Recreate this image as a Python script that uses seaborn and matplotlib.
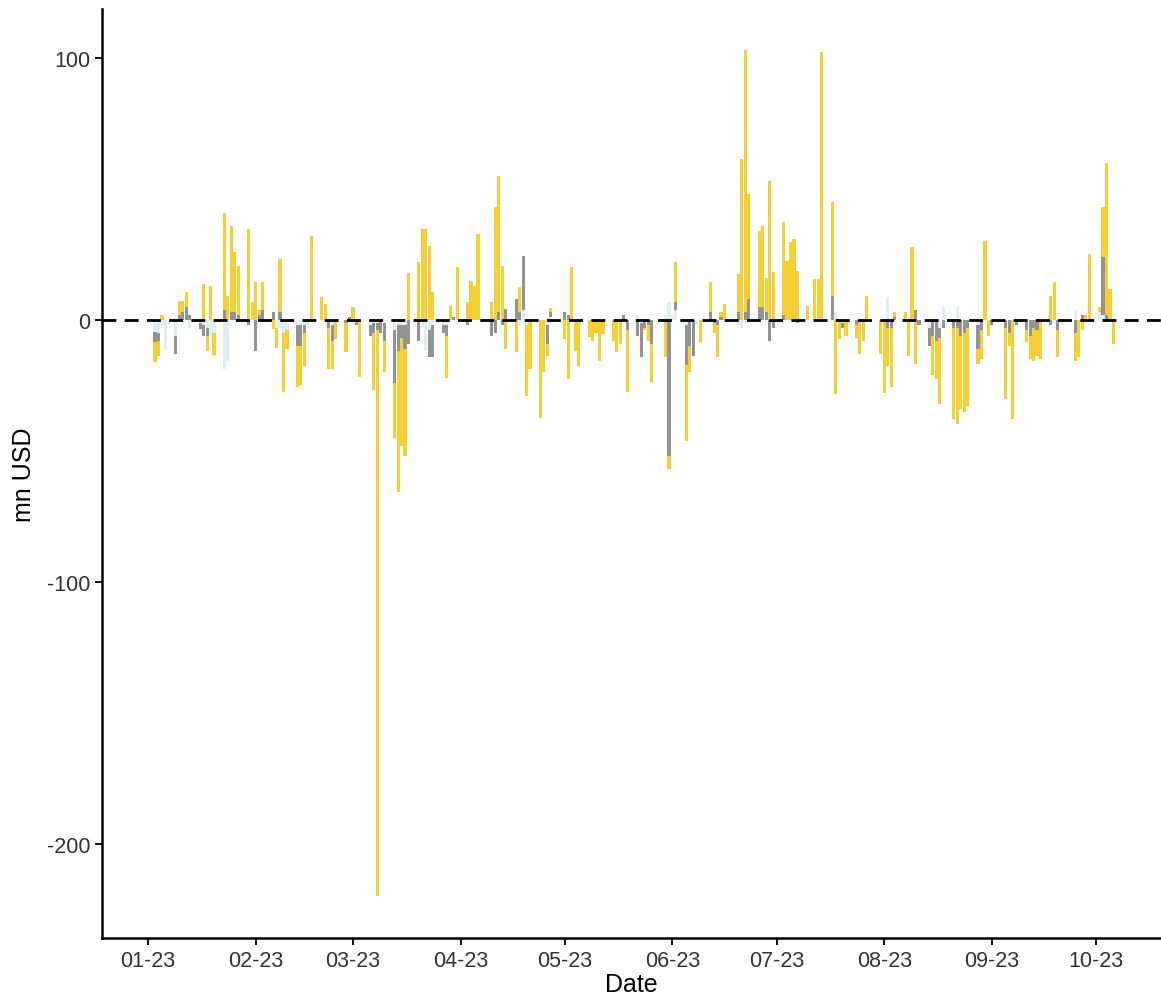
import pandas as pd
import numpy as np
import matplotlib
matplotlib.use("Agg")
import matplotlib.pyplot as plt
import matplotlib.dates as mdates
import seaborn as sns

# daily flows, mn USD
dates = [
    "2023-01-03", "2023-01-04", "2023-01-05", "2023-01-06", "2023-01-09", "2023-01-10",
    "2023-01-11", "2023-01-12", "2023-01-13", "2023-01-16", "2023-01-17", "2023-01-18",
    "2023-01-19", "2023-01-20", "2023-01-23", "2023-01-24", "2023-01-25", "2023-01-26",
    "2023-01-27", "2023-01-30", "2023-01-31", "2023-02-01", "2023-02-02", "2023-02-03",
    "2023-02-06", "2023-02-07", "2023-02-08", "2023-02-09", "2023-02-10", "2023-02-13",
    "2023-02-14", "2023-02-15", "2023-02-16", "2023-02-17", "2023-02-20", "2023-02-21",
    "2023-02-22", "2023-02-23", "2023-02-24", "2023-02-27", "2023-02-28", "2023-03-01",
    "2023-03-02", "2023-03-03", "2023-03-06", "2023-03-07", "2023-03-08", "2023-03-09",
    "2023-03-10", "2023-03-13", "2023-03-14", "2023-03-15", "2023-03-16", "2023-03-17",
    "2023-03-20", "2023-03-21", "2023-03-22", "2023-03-23", "2023-03-24", "2023-03-27",
    "2023-03-28", "2023-03-29", "2023-03-30", "2023-03-31", "2023-04-03", "2023-04-04",
    "2023-04-05", "2023-04-06", "2023-04-10", "2023-04-11", "2023-04-12", "2023-04-13",
    "2023-04-14", "2023-04-17", "2023-04-18", "2023-04-19", "2023-04-20", "2023-04-21",
    "2023-04-24", "2023-04-25", "2023-04-26", "2023-04-27", "2023-05-01", "2023-05-02",
    "2023-05-03", "2023-05-04", "2023-05-05", "2023-05-08", "2023-05-09", "2023-05-10",
    "2023-05-11", "2023-05-12", "2023-05-15", "2023-05-16", "2023-05-17", "2023-05-18",
    "2023-05-19", "2023-05-22", "2023-05-23", "2023-05-24", "2023-05-25", "2023-05-26",
    "2023-05-30", "2023-05-31", "2023-06-01", "2023-06-02", "2023-06-05", "2023-06-06",
    "2023-06-07", "2023-06-08", "2023-06-09", "2023-06-12", "2023-06-13", "2023-06-14",
    "2023-06-15", "2023-06-16", "2023-06-20", "2023-06-21", "2023-06-22", "2023-06-23",
    "2023-06-26", "2023-06-27", "2023-06-28", "2023-06-29", "2023-06-30", "2023-07-03",
    "2023-07-04", "2023-07-05", "2023-07-06", "2023-07-07", "2023-07-10", "2023-07-12",
    "2023-07-13", "2023-07-14", "2023-07-17", "2023-07-18", "2023-07-19", "2023-07-20",
    "2023-07-21", "2023-07-24", "2023-07-25", "2023-07-26", "2023-07-27", "2023-07-31",
    "2023-08-01", "2023-08-02", "2023-08-03", "2023-08-04", "2023-08-07", "2023-08-08",
    "2023-08-09", "2023-08-10", "2023-08-11", "2023-08-14", "2023-08-15", "2023-08-16",
    "2023-08-17", "2023-08-18", "2023-08-21", "2023-08-22", "2023-08-23", "2023-08-24",
    "2023-08-25", "2023-08-28", "2023-08-29", "2023-08-30", "2023-08-31", "2023-09-01",
    "2023-09-05", "2023-09-06", "2023-09-07", "2023-09-08", "2023-09-11", "2023-09-12",
    "2023-09-13", "2023-09-14", "2023-09-15", "2023-09-18", "2023-09-19", "2023-09-20",
    "2023-09-21", "2023-09-25", "2023-09-26", "2023-09-27", "2023-09-28", "2023-09-29",
    "2023-10-02", "2023-10-03", "2023-10-04", "2023-10-05", "2023-10-06",
]

yellow = [
    -7.7, -5.6, 2.0, 0, 0, 5.4,
    4.4, 5.5, 0, 0, 13.7, -5.7,
    12.9, -8.4, 37.0, 9.0, 33.0, 22.8,
    18.7, 34.7, 6.7, 14.4, 2.0, 10.4,
    -3.4, -7.5, 20.3, -22.6, -7.0, -15.7,
    -15.0, -12.4, 0, 32.2, 8.7, 6.0,
    -15.7, -10.7, -7.3, -11.3, 0, 4.8,
    0, -21.9, 0, -21.7, -216.0, 0,
    -12.0, -21.0, -53.6, -41.0, -41.0, 18.0,
    22.0, 34.7, 34.7, 28.4, 10.5, 0,
    -16.0, 5.5, 0, 20.1, 6.7, 15.0,
    13.1, 32.8, 6.7, 43.0, 52.0, 20.7,
    -11.0, -12.3, 9.5, 0, -27.0, -18.7,
    -37.5, -20.0, -4.6, 1.5, -7.3, -22.5,
    20.1, -11.7, -17.4, -6.6, -7.9, -5.0,
    -15.5, -5.5, -8.0, -12.3, -9.0, 0,
    -23.6, 0, 0, -1.0, -6.0, -14.6,
    -14.2, -5.0, 0, 15.0, -29.0, -10.0,
    0, 0, -8.5, 11.4, -4.0, -12.2,
    2.0, 6.0, 14.6, 61.5, 100.0, 40.0,
    29.0, 31.0, 13.0, 53.2, 18.2, 35.3,
    22.6, 29.6, 30.9, 18.8, 5.5, 15.6,
    15.6, 102.4, 35.6, -28.2, -7.3, 0,
    -6.0, -5.0, -13.0, -8.0, 9.3, -13.0,
    -28.0, -14.4, -22.7, 2.0, 3.0, -13.6,
    27.7, -16.8, 0, 0, -15.0, -14.5,
    -25.0, 0, -34.8, -36.7, -28.0, -30.2,
    -29.7, -5.8, -11.0, 30.3, -6.0, 0,
    -27.2, -5.0, -37.8, 0, -4.5, -9.0,
    -12.5, -9.6, -15.0, 9.3, 14.4, -10.2,
    0, -10.5, -14.2, -4.0, 2.0, 25.2,
    2.0, 19.0, 58.0, 11.8, -9.2,
]

grey = [
    -3.9, -3.0, 0, 0, -7.0, 2.0,
    3.0, 5.0, 2.0, -2.4, -4.0, -3.0,
    0, 0, 4.0, 0, 3.0, 3.0,
    2.0, -2.0, 0, -11.7, 2.0, 4.0,
    3.0, 0, 3.0, 0, 0, -8.0,
    -8.0, -3.0, 0, 0, 0, 0,
    -3.0, -6.0, 0, -1.0, 1.0, 0,
    -2.0, 0, -4.0, -4.0, -3.0, -5.0,
    -7.0, -20.0, -10.0, -5.0, -9.0, -9.0,
    -8.0, 0, 0, -10.0, -12.0, -3.0,
    -4.0, 0, 1.0, 0, -2.0, 0,
    0, 0, -6.0, -5.0, 3.0, -2.0,
    4.2, 8.0, 3.0, 20.5, 0, 0,
    0, 0, -7.0, 2.0, 3.0, 2.0,
    0, 0, 0, 0, 0, 0,
    0, 0, 0, 0, 0, 2.0,
    -4.0, -6.0, -13.0, -3.0, -2.0, -9.2,
    0, -52.0, 0, 3.0, -15.0, -10.0,
    -13.6, 0, 0, 3.0, -1.0, -2.0,
    1.0, 0, 3.0, 0, 3.0, 8.0,
    5.0, 5.0, 3.0, -7.9, -3.0, 2.0,
    0, 0, 0, -1.0, 0, 0,
    0, 0, 9.3, 0, 0, -2.0,
    0, -2.0, 0, 0, 0, 0,
    0, -3.0, -3.0, 1.0, 0, 0,
    0, 4.0, -2.0, -7.0, -6.0, -8.0,
    -4.0, -3.0, -3.0, -3.0, -6.0, -5.0,
    -3.0, -9.0, -4.0, 0, 0, -2.0,
    -3.0, -5.0, 0, -2.0, -4.0, -6.0,
    -3.0, -4.0, 0, -2.0, 0, -4.0,
    0, -5.0, 0, 2.0, 0, 0,
    0, 22.0, 2.0, 0, 0,
]

light_blue = [
    -4.6, -5.0, -2.0, -11.0, -6.0, 0,
    0, 0, -3.0, -1.0, -2.0, -3.0,
    -6.0, -5.0, -18.7, -15.5, 0, 0,
    0, 0, 0, 0, 0, 0,
    0, -3.0, -3.0, -5.0, -4.0, -2.0,
    -2.0, -2.0, -3.0, 0, 0, 0,
    0, -2.0, 0, 0, 0, -2.0,
    0, 0, -2.0, -1.0, -1.0, 0,
    -1.0, -4.0, -2.0, -2.0, -2.0, 0,
    0, -3.0, -12.0, -4.0, -2.0, -2.0,
    -2.0, 0, 0, 0, 0, 0,
    0, 0, 0, 0, 0, 0,
    0, 0, -2.0, 4.0, -2.0, 0,
    0, 0, -2.0, 1.0, 0, 0,
    0, 0, 0, 0, 0, 0,
    0, 0, 0, 0, 0, 0,
    0, 2.0, -1.0, 0, 0, 0,
    2.0, 7.0, 2.0, 4.0, -2.0, 0,
    0, -2.0, 0, 0, 0, 0,
    0, 0, -2.0, -3.0, 0, 0,
    0, 0, 0, 0, 0, 0,
    0, 0, 0, 0, 0, 0,
    0, 0, 0, 3.0, 0, -1.0,
    0, 0, 0, 0, 0, 0,
    0, 8.7, 0, 0, 0, 0,
    0, 0, 0, -3.0, 0, 0,
    -3.0, 5.0, 0, 5.0, 0, 0,
    0, -2.0, 0, 0, 0, 0,
    0, 0, 0, 0, 0, 0,
    0, 0, 0, 0, -1.0, 0,
    -2.0, 4.0, 0, 0, 0, 0,
    3.0, 2.0, 0, 0, 0,
]

month_ticks = pd.date_range("2023-01-01", "2023-10-01", freq="MS")

df = pd.DataFrame({"Date": pd.to_datetime(dates), "yellow": yellow,
                   "grey": grey, "light_blue": light_blue})

sns.set_theme(style="ticks")
plt.rcParams["font.family"] = ["Liberation Sans", "DejaVu Sans"]
plt.rcParams["axes.unicode_minus"] = False

fig = plt.figure(figsize=(11.61, 10.03), dpi=100)
ax = fig.add_axes([0.0879, 0.0638, 0.9121, 0.9262])

colors = {"light_blue": "#E2EDF3", "grey": "#939393", "yellow": "#F5CF33"}
pos_base = np.zeros(len(df))
neg_base = np.zeros(len(df))
# stack outward from zero: light blue, grey, then yellow
for col in ["light_blue", "grey", "yellow"]:
    v = df[col].to_numpy()
    bottom = np.where(v >= 0, pos_base, neg_base)
    ax.bar(df["Date"], v, bottom=bottom, width=0.9, color=colors[col],
           linewidth=0, zorder=2)
    pos_base = pos_base + np.clip(v, 0, None)
    neg_base = neg_base + np.clip(v, None, 0)

ax.axhline(0, color="black", linestyle=(0, (5, 3)), linewidth=2, zorder=3)

jan1 = pd.Timestamp("2023-01-01")
ax.set_xlim(jan1 - pd.Timedelta(days=13.25), jan1 + pd.Timedelta(days=291.7))
ax.set_ylim(-235.9, 118.7)
ax.set_yticks([-200, -100, 0, 100])
ax.set_xticks(month_ticks)
ax.xaxis.set_major_formatter(mdates.DateFormatter("%m-%y"))

ax.set_xlabel("Date", fontsize=18, color="black", labelpad=1)
ax.set_ylabel("mn USD", fontsize=18, color="black", labelpad=8)
ax.tick_params(axis="both", labelsize=15.5, labelcolor="#333333", length=5,
               width=1.3, direction="out", color="black")
for s in ["left", "bottom"]:
    ax.spines[s].set_linewidth(1.8)
    ax.spines[s].set_color("black")
sns.despine(ax=ax)
ax.grid(False)

fig.savefig("out.png", dpi=100)
